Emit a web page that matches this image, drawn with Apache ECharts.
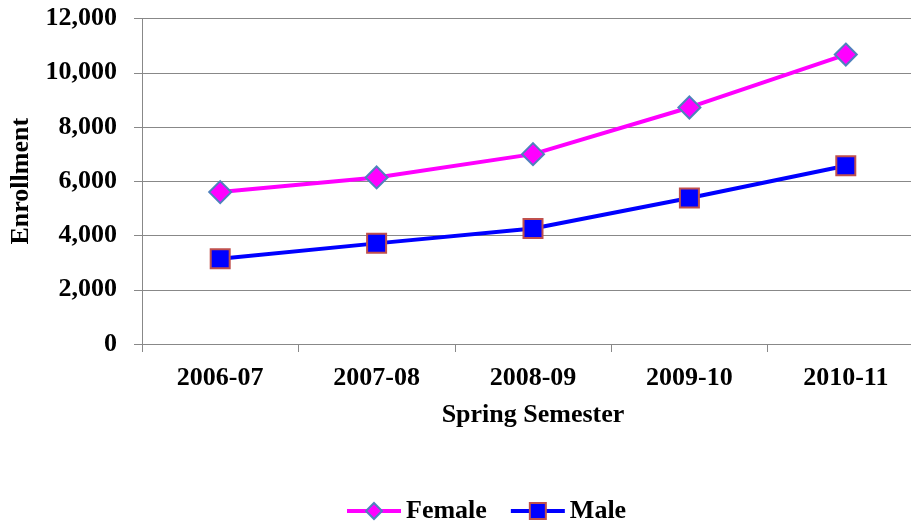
<!DOCTYPE html>
<html><head><meta charset="utf-8">
<script src="https://cdn.jsdelivr.net/npm/echarts@6/dist/echarts.min.js"></script>
<style>html,body{margin:0;padding:0;background:#fff}#c{width:911px;height:523px}</style>
</head><body><div id="c"></div>
<script>
const categories = ['2006-07','2007-08','2008-09','2009-10','2010-11'];
const female = [5600, 6140, 7000, 8720, 10670];
const male = [3140, 3710, 4260, 5380, 6570];
const yTicks = [0, 2000, 4000, 6000, 8000, 10000, 12000];

const font = 'Liberation Serif, Times New Roman, serif';
const chart = echarts.init(document.getElementById('c'), null, {renderer:'canvas'});
chart.setOption({
  animation:false,
  backgroundColor:'#fff',
  grid:{left:142, top:18.5, right:-13, bottom:179, containLabel:false, outerBoundsMode:'none'},
  legend:{
    bottom:-1, left:345, padding:0,
    itemWidth:54, itemHeight:20, itemGap:22,
    lineStyle:{width:4},
    textStyle:{fontFamily:font, fontWeight:'bold', fontSize:26, color:'#000'},
    data:['Female','Male']
  },
  xAxis:{
    type:'category', data:categories, boundaryGap:true,
    name:'Spring Semester', nameLocation:'middle', nameGap:58,
    nameTextStyle:{fontFamily:font, fontWeight:'bold', fontSize:26, color:'#000'},
    axisLine:{lineStyle:{color:'#888', width:1}},
    axisTick:{show:true, length:8, lineStyle:{color:'#888'}},
    axisLabel:{fontFamily:font, fontWeight:'bold', fontSize:26, color:'#000', margin:21}
  },
  yAxis:{
    type:'value', min:yTicks[0], max:yTicks[yTicks.length-1], interval:2000,
    name:'Enrollment', nameLocation:'middle', nameGap:106, nameRotate:90,
    nameTextStyle:{fontFamily:font, fontWeight:'bold', fontSize:26, color:'#000'},
    axisLine:{show:true, lineStyle:{color:'#888', width:1}},
    axisTick:{show:true, length:8, lineStyle:{color:'#888'}},
    splitLine:{lineStyle:{color:'#888', width:1}},
    axisLabel:{fontFamily:font, fontWeight:'bold', fontSize:26, color:'#000', margin:25,
      formatter:v=>v.toLocaleString('en-US')}
  },
  series:[
    {name:'Female', type:'line', data:female,
     lineStyle:{color:'#FF00FF', width:4},
     itemStyle:{color:'#FF00FF', borderColor:'#4F81BD', borderWidth:2},
     symbol:'diamond', symbolSize:22},
    {name:'Male', type:'line', data:male,
     lineStyle:{color:'#0000FF', width:4},
     itemStyle:{color:'#0000FF', borderColor:'#C0504D', borderWidth:2},
     symbol:'rect', symbolSize:19}
  ]
});
</script></body></html>
